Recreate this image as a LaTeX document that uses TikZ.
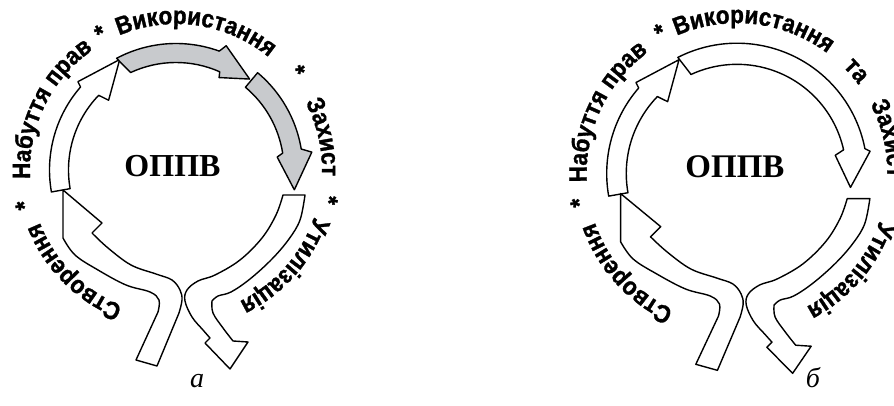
\documentclass[tikz,border=0pt]{standalone}
\usepackage{fontspec}
\setmainfont{Liberation Serif}
\setsansfont{Liberation Sans}
\newfontfamily\ringfamily{Liberation Sans}[FakeStretch=0.9,FakeBold=1.2]
\usetikzlibrary{decorations.text}
\definecolor{arrowgray}{RGB}{200,202,205}
\newcommand{\ringfont}{\ringfamily\bfseries\fontsize{25}{27}\selectfont}

% word on the ring, clockwise: mid angle, half span, text
\newcommand{\ringword}[3]{%
  \path[decorate,decoration={text along path,text align=center,text={|\ringfont|#3}}]
    ({#1+#2}:146) arc[start angle={#1+#2},end angle={#1-#2},radius=146];}

% left arc of the ring
\newcommand{\leftarc}{%
  \draw[band] (190:107.5) -- (190:126.5) arc[start angle=190,end angle=139,radius=126.5]
    -- (138:132) -- (117:124) -- (134:97) -- (136:107.5)
    arc[start angle=136,end angle=190,radius=107.5] -- cycle;}

% the two S-shaped arrows at the bottom
\newcommand{\lowerarrows}{%
  \draw[band] (-40,-190) -- (-18,-142)
    -- plot[smooth,tension=.6] coordinates {(-18,-142) (-17,-130) (-26,-122) (-50,-115) (-78,-100) (-101,-85) (-113,-68)}
    -- (-113,-20) -- (-74,-53) -- (-84,-63)
    -- plot[smooth,tension=.6] coordinates {(-84,-63) (-68,-78) (-45,-95) (-20,-104) (-4,-110) (4,-120) (6,-130) (3,-143)}
    -- (-19,-196) -- cycle;
  \draw[band] (107,-25) -- (129,-25)
    -- plot[smooth,tension=.6] coordinates {(129,-25) (124,-50) (113,-69) (96,-89) (74,-109) (55,-122) (42,-126) (36,-131)}
    -- plot[smooth,tension=.6] coordinates {(36,-131) (37,-143) (47,-158) (57,-171)}
    -- (72,-172) -- (54,-199) -- (29,-173) -- (34,-168)
    -- plot[smooth,tension=.6] coordinates {(34,-168) (27,-160) (16,-147) (9,-131) (11,-120) (22,-111) (39,-105) (64,-90) (86,-68) (100,-45) (107,-25)}
    -- cycle;}

\begin{document}
\begin{tikzpicture}[x=1pt,y=1pt,
  band/.style={draw,line width=1.4pt,line join=round,fill=white},
  grayband/.style={band,fill=arrowgray},
  starmark/.style={font=\ringfont,inner sep=0pt},
  title/.style={font=\bfseries\fontsize{32}{32}\selectfont},
  caption/.style={font=\itshape\fontsize{28}{28}\selectfont,anchor=base}]
\useasboundingbox (0,0) rectangle (894,406);
\clip (0,0) rectangle (894,406);

% a
\begin{scope}[shift={(176,236)}]
  \leftarc
  \lowerarrows
  \draw[grayband] (115:107.5) -- (118:126.5) arc[start angle=118,end angle=70,radius=126.5]
    -- (68:134) -- (51:117) -- (65:102) -- (66:107.5)
    arc[start angle=66,end angle=115,radius=107.5] -- cycle;
  \draw[grayband] (50:108) -- (50:127) arc[start angle=50,end angle=9.5,radius=127]
    -- (7.5:137) -- (-9.5:120) -- (7.3:102) -- (9:108)
    arc[start angle=9,end angle=50,radius=108] -- cycle;
  \node[title] (oppva) at (-3.5,4) {ОППВ};
  \ringword{224.8}{50}{Створення}
  \ringword{154}{50}{Набуття прав}
  \ringword{81.7}{50}{Використання}
  \ringword{12.6}{40}{Захист}
  \ringword{-41.5}{50}{Утилізація}
  \node[starmark,rotate=103] (sa1) at (193:156) {*};
  \node[starmark,rotate=29] (sa2) at (119:156) {*};
  \node[starmark,rotate=-51] (sa3) at (39:156) {*};
  \node[starmark,rotate=-101] (sa4) at (-11:156) {*};
\end{scope}

% b
\begin{scope}[shift={(737,232.5)},scale=1.03]
  \leftarc
  \begin{scope}[yscale=.975]
    \lowerarrows
  \end{scope}
  \draw[band] (115:107) -- (117:126.5) arc[start angle=117,end angle=11,radius=126.5]
    -- (9.5:131) -- (-7:111) -- (10.5:97) -- (12.5:106)
    arc[start angle=12.5,end angle=115,radius=106] -- cycle;
  \node[title,font=\bfseries\fontsize{33}{33}\selectfont] (oppvb) at (-2,6.8) {ОППВ};
  \ringword{222}{50}{Створення}
  \ringword{154.7}{50}{Набуття прав}
  \ringword{83.3}{50}{Використання}
  \ringword{40.7}{25}{та}
  \ringword{13}{40}{Захист}
  \ringword{-40.5}{50}{Утилізація}
  \node[starmark,rotate=100.4] (sb1) at (190.4:156) {*};
  \node[starmark,rotate=28.6] (sb2) at (118.6:156) {*};
  \node[starmark,rotate=-100] (sb3) at (-10:156) {*};
\end{scope}

\node[caption] (capa) at (197,18) {а};
\node[caption] (capb) at (813,18) {б};
\end{tikzpicture}
\end{document}
